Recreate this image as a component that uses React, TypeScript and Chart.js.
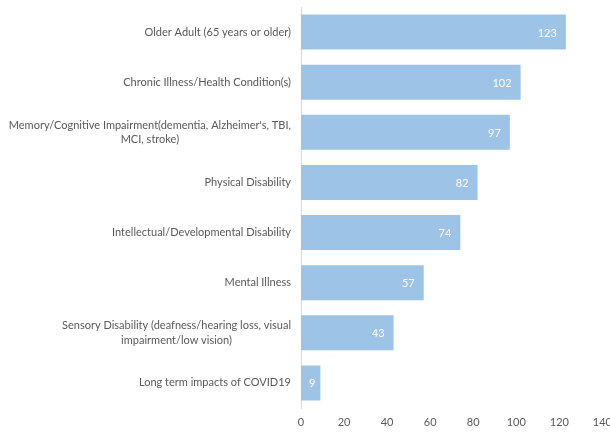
import React, { useEffect, useRef } from "react";
import { Chart, registerables } from "chart.js";

Chart.register(...registerables);

const categories: string[][] = [
  ["Older Adult (65 years or older)"],
  ["Chronic Illness/Health Condition(s)"],
  ["Memory/Cognitive Impairment(dementia, Alzheimer's, TBI,", "MCI, stroke)"],
  ["Physical Disability"],
  ["Intellectual/Developmental Disability"],
  ["Mental Illness"],
  ["Sensory Disability (deafness/hearing loss, visual", "impairment/low vision)"],
  ["Long term impacts of COVID19"],
];
const values: number[] = [123, 102, 97, 82, 74, 57, 43, 9];
const xTicks: number[] = [0, 20, 40, 60, 80, 100, 120, 140];

const FONT = "Lato, 'Open Sans', sans-serif";
const GRAY = "#595959";
const BAR = "#9dc3e6";

const yLabelPlugin = {
  id: "yLabelPlugin",
  afterDraw(chart: any) {
    const ctx = chart.ctx;
    const y = chart.scales.y;
    const rightX = y.right - 10;
    ctx.save();
    ctx.font = `11px ${FONT}`;
    ctx.fillStyle = GRAY;
    ctx.textBaseline = "middle";
    ctx.textAlign = "center";
    categories.forEach((lines, i) => {
      const cy = y.getPixelForTick(i);
      const w = Math.max(...lines.map((l) => ctx.measureText(l).width));
      const cx = rightX - w / 2;
      const lh = 14.5;
      const start = cy - ((lines.length - 1) * lh) / 2;
      lines.forEach((l, j) => ctx.fillText(l, cx, start + j * lh));
    });
    ctx.restore();
  },
};

const dataLabelPlugin = {
  id: "dataLabelPlugin",
  afterDatasetsDraw(chart: any) {
    const ctx = chart.ctx;
    const meta = chart.getDatasetMeta(0);
    ctx.save();
    ctx.font = `11px ${FONT}`;
    ctx.fillStyle = "#ffffff";
    ctx.textBaseline = "middle";
    ctx.textAlign = "right";
    meta.data.forEach((bar: any, i: number) => {
      const gap = values[i] < 20 ? 5 : 9;
      ctx.fillText(String(values[i]), bar.x - gap, bar.y + 1);
    });
    ctx.restore();
  },
};

export default function App() {
  const ref = useRef<HTMLCanvasElement>(null);
  useEffect(() => {
    if (!ref.current) return;
    const chart = new Chart(ref.current, {
      type: "bar",
      data: {
        labels: categories.map((c) => c.join(" ")),
        datasets: [
          {
            data: values,
            backgroundColor: BAR,
            borderWidth: 0,
            barPercentage: 0.7,
            categoryPercentage: 1,
          },
        ],
      },
      options: {
        indexAxis: "y",
        animation: false,
        responsive: false,
        maintainAspectRatio: false,
        layout: { padding: { top: 7, bottom: 0, left: 0, right: 11 } },
        plugins: { legend: { display: false }, tooltip: { enabled: false } },
        scales: {
          x: {
            min: 0,
            max: 140,
            afterBuildTicks: (scale: any) => {
              scale.ticks = xTicks.map((v) => ({ value: v }));
            },
            afterFit: (scale: any) => {
              scale.height = 25;
            },
            grid: { display: false, drawTicks: false },
            border: { display: false },
            ticks: {
              padding: 8,
              color: GRAY,
              font: { family: FONT, size: 11 },
              maxRotation: 0,
            },
          },
          y: {
            grid: { display: false, drawTicks: false },
            border: { display: true, color: "#d9d9d9", width: 1 },
            ticks: { display: false },
            afterFit: (scale: any) => {
              scale.width = 301;
            },
          },
        },
      },
      plugins: [yLabelPlugin, dataLabelPlugin],
    });
    return () => chart.destroy();
  }, []);
  return (
    <div
      style={{
        position: "fixed",
        left: 0,
        top: 0,
        width: 610,
        height: 433,
        overflow: "hidden",
        background: "#fff",
      }}
    >
      <canvas ref={ref} width={620} height={433} style={{ display: "block" }} />
    </div>
  );
}
